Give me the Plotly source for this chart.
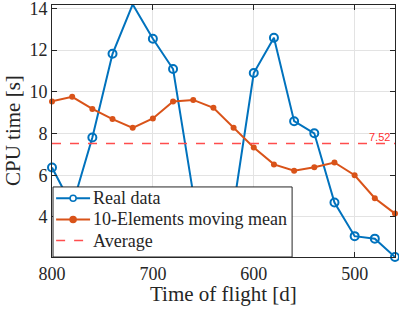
import plotly.graph_objects as go

time_of_flight = [800, 780, 760, 740, 720, 700, 680, 660, 640, 620, 600, 580, 560, 540, 520, 500, 480, 460]
real_data = [6.37, 4.51, 7.81, 11.82, 14.19, 12.54, 11.09, 5.11, 4.77, 4.49, 10.90, 12.59, 8.59, 8.01, 4.69, 3.08, 2.96, 2.08]
moving_mean = [9.54, 9.76, 9.18, 8.69, 8.27, 8.72, 9.53, 9.61, 9.23, 8.28, 7.33, 6.52, 6.22, 6.38, 6.61, 6.00, 4.90, 4.16]
average_value = [7.52, 7.52]
average_x = [800, 460]
x_ticks = [500, 600, 700, 800]
y_ticks = [4, 6, 8, 10, 12, 14]
legend_labels = ["Real data", "10-Elements moving mean", "Average"]
x_title = "Time of flight [d]"
y_title = "CPU time [s]"

SERIF = "Liberation Serif, Times New Roman, serif"
BLUE = "#0072BD"
ORANGE = "#D95319"
RED = "#FF4D4D"
DARK = "#262626"

fig = go.Figure()
fig.add_trace(go.Scatter(
    x=time_of_flight, y=real_data, mode="lines+markers", name=legend_labels[0],
    line=dict(color=BLUE, width=2),
    marker=dict(symbol="circle-open", size=8, color=BLUE, line=dict(width=2, color=BLUE)),
    cliponaxis=False,
))
fig.add_trace(go.Scatter(
    x=time_of_flight, y=moving_mean, mode="lines+markers", name=legend_labels[1],
    line=dict(color=ORANGE, width=2),
    marker=dict(symbol="circle", size=6, color=ORANGE),
    cliponaxis=False,
))
fig.add_trace(go.Scatter(
    x=average_x, y=average_value, mode="lines", name=legend_labels[2],
    line=dict(color=RED, width=1.5, dash="dash"),
))
fig.add_annotation(
    x=1, xref="paper", y=average_value[0], yref="y",
    text=f"{average_value[0]:.2f}", showarrow=False,
    xanchor="right", yanchor="bottom", xshift=-3, yshift=-1,
    font=dict(family="Liberation Sans, Arial, sans-serif", size=11, color="#FF3030"),
)

# Axis titles as annotations for precise placement
fig.add_annotation(x=0.5, y=0, xref="paper", yref="paper", text=x_title,
                   showarrow=False, xanchor="center", yanchor="middle", yshift=-37,
                   font=dict(family=SERIF, size=21, color=DARK))
fig.add_annotation(x=0, y=0.5, xref="paper", yref="paper", text=y_title,
                   showarrow=False, xanchor="center", yanchor="middle", xshift=-39,
                   textangle=-90, font=dict(family=SERIF, size=21, color=DARK))

# Manual legend (MATLAB-like compact box), in plot-area paper coordinates
box = dict(x0=0.003, x1=0.70, y0=0.0, y1=0.278)
rows_y = [0.233, 0.149, 0.065]
sample_x0, sample_x1, text_x = 0.012, 0.111, 0.114
shapes = [dict(type="rect", xref="paper", yref="paper", layer="above",
               fillcolor="white", line=dict(color=DARK, width=1), **box)]
styles = [
    (BLUE, "solid", 2, "open"),
    (ORANGE, "solid", 2, "filled"),
    (RED, "dash", 1.5, None),
]
for yy, (col, dash, w, mk) in zip(rows_y, styles):
    shapes.append(dict(type="line", xref="paper", yref="paper", layer="above",
                       x0=sample_x0, x1=sample_x1, y0=yy, y1=yy,
                       line=dict(color=col, width=w, dash=dash)))
    if mk:
        xc = (sample_x0 + sample_x1) / 2
        shapes.append(dict(type="circle", xref="paper", yref="paper", layer="above",
                           xsizemode="pixel", ysizemode="pixel", xanchor=xc, yanchor=yy,
                           x0=-3, x1=3, y0=-3, y1=3,
                           fillcolor=("white" if mk == "open" else col),
                           line=dict(color=col, width=1.5)))
for yy, lab in zip(rows_y, legend_labels):
    fig.add_annotation(x=text_x, y=yy, xref="paper", yref="paper", text=lab,
                       showarrow=False, xanchor="left", yanchor="middle",
                       font=dict(family=SERIF, size=18, color=DARK))

axis_common = dict(
    showline=True, linecolor=DARK, linewidth=1, mirror="ticks",
    ticks="inside", ticklen=5, tickcolor=DARK, tickwidth=1,
    showgrid=True, gridcolor="#E3E3E3", gridwidth=1, zeroline=False,
    tickfont=dict(family=SERIF, size=18, color=DARK),
    ticklabeloverflow="allow",
)

fig.update_xaxes(range=[800, 460], tickvals=x_ticks, ticktext=[str(t) for t in x_ticks], **axis_common)
fig.update_yaxes(range=[2.08, 14.16], tickvals=y_ticks, ticktext=[str(t) for t in y_ticks], **axis_common)

fig.update_layout(
    width=399, height=310,
    margin=dict(l=52, r=4, t=5, b=53, autoexpand=False),
    plot_bgcolor="white", paper_bgcolor="white",
    showlegend=False,
    shapes=shapes,
)

fig.write_html("out.html", config={"displayModeBar": False},
               post_script="document.body.style.margin='0';document.body.style.padding='0';")
